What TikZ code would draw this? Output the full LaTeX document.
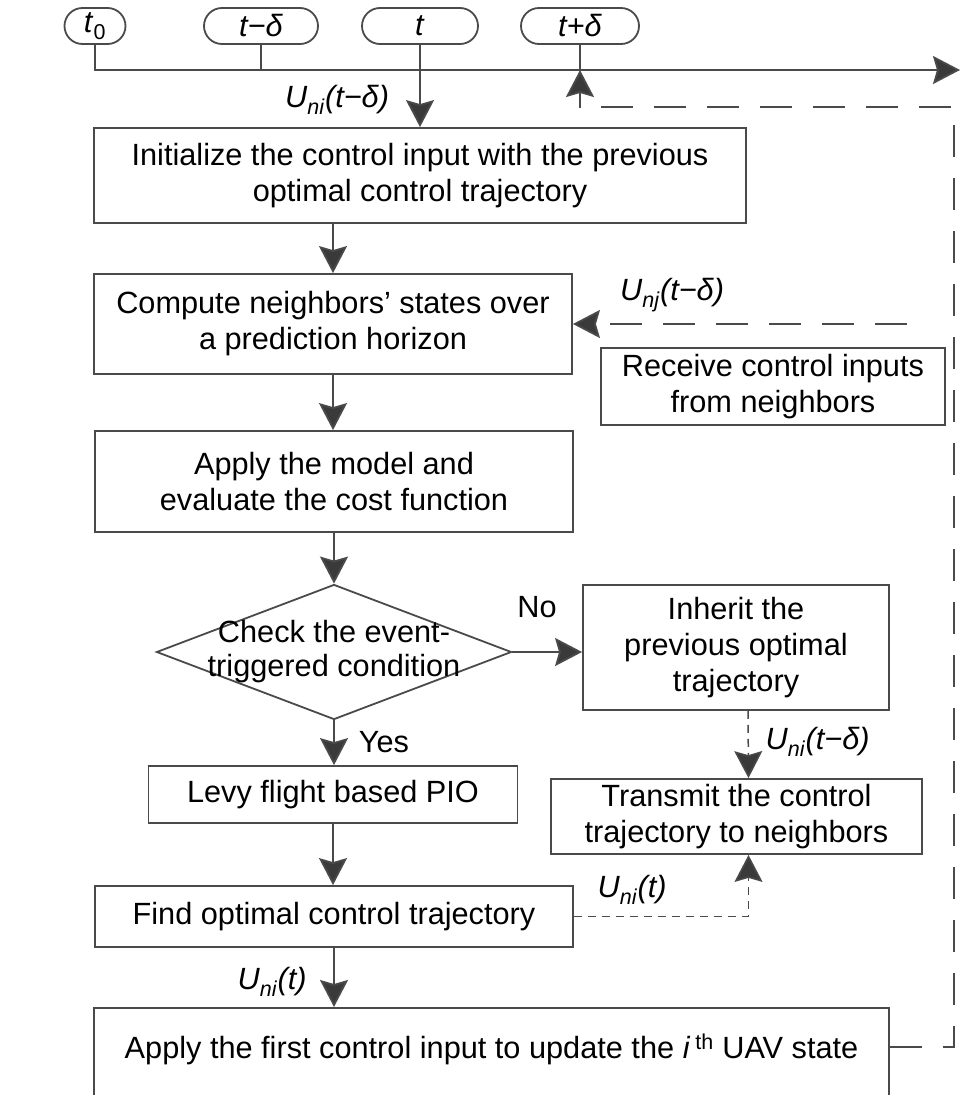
\documentclass[tikz,border=0pt]{standalone}
\usepackage{fontspec}
\setmainfont{Liberation Sans}
\usepackage{tikz}
\usetikzlibrary{arrows.meta,shapes.geometric}

\definecolor{linegray}{HTML}{4A4A4A}
\definecolor{tipgray}{HTML}{3A3A3A}
\newcommand{\Usig}[2]{\textit{U}\textsubscript{\textit{#1}}\textit{(#2)}}

\begin{document}
\begin{tikzpicture}[x=1pt,y=-1pt,
    every node/.style={font=\fontsize{30.7}{36}\selectfont},
    box/.style={draw=linegray,line width=1.8pt,rectangle,align=center,inner sep=0pt},
    pill/.style={draw=linegray,line width=1.8pt,rounded corners=18pt,minimum height=36pt,inner sep=0pt},
    dec/.style={draw=linegray,line width=1.8pt,diamond,minimum width=355pt,minimum height=135pt,inner sep=0pt},
    wire/.style={draw=linegray,line width=1.8pt},
    arr/.style={wire,-{Stealth[length=27pt,width=28pt,inset=4pt,fill=tipgray]}},
    dlong/.style={dash pattern=on 32pt off 21pt},
    dshort/.style={line width=1.5pt,dash pattern=on 8pt off 6pt}]

    \useasboundingbox (0,0) rectangle (961,1095);

    % Time axis
    \node[pill,minimum width=61pt]  (p0) at (95,26)  {\textit{t}\textsubscript{0}};
    \node[pill,minimum width=114pt] (pm) at (261,26) {\textit{t−δ}};
    \node[pill,minimum width=116pt] (pt) at (420,26) {\textit{t}};
    \node[pill,minimum width=118pt] (pp) at (580,26) {\textit{t+δ}};
    \coordinate (tl0) at (94,70);
    \coordinate (tl1) at (960,70);
    \draw[arr] (tl0) -- (tl1);
    \draw[wire] (p0.south) -- (p0.south |- tl0);
    \draw[wire] (pm.south) -- (pm.south |- tl0);
    \draw[wire] (pp.south) -- (pp.south |- tl0);

    % Main column
    \node[box,minimum width=652pt,minimum height=95pt] (init) at (420,175.5)
      {Initialize the control input with the previous\\optimal control trajectory};
    \node[box,minimum width=478pt,minimum height=100pt] (nbst) at (333,324)
      {Compute neighbors’ states over\\a prediction horizon};
    \node[box,minimum width=478pt,minimum height=101pt] (cost) at (334,481.5)
      {Apply the model and\\evaluate the cost function};
    \node[dec,label={[align=center,font=\fontsize{30.7}{34}\selectfont]center:Check the event-\\triggered condition}] (chk) at (334,652) {};
    \node[box,minimum width=369pt,minimum height=57pt] (levy) at (333,794.5)
      {Levy flight based PIO};
    \node[box,minimum width=478pt,minimum height=61pt] (find) at (334,916.5)
      {Find optimal control trajectory};
    \node[box,anchor=north,minimum width=795pt,text height=51pt,text depth=100pt] (last) at (491.5,1007)
      {Apply the first control input to update the \textit{i}\,\textsuperscript{th} UAV state};

    % Side column
    \node[box,minimum width=344pt,minimum height=77pt] (rcv) at (773,386.5)
      {Receive control inputs\\from neighbors};
    \node[box,minimum width=306pt,minimum height=125pt] (inh) at (736,647.5)
      {Inherit the\\previous optimal\\trajectory};
    \node[box,minimum width=371pt,minimum height=75pt] (trn) at (736.5,816.5)
      {Transmit the control\\trajectory to neighbors};

    % Flow
    \draw[arr] (pt.south) -- (init.north);
    \draw[arr] (init.south -| nbst.north) -- (nbst.north);
    \draw[arr] (nbst.south) -- (nbst.south |- cost.north);
    \draw[arr] (cost.south) -- (chk.north);
    \draw[arr] (chk.east) -- (chk.east -| inh.west);
    \draw[arr] (chk.south) -- (chk.south |- levy.north);
    \draw[arr] (levy.south) -- (levy.south |- find.north);
    \draw[arr] (find.south) -- (find.south |- last.north);

    % Exchange with neighbors (dashed)
    \coordinate (rcvin) at (907,324);
    \draw[arr,dlong] (rcvin) -- (nbst.east);
    \draw[arr,dshort] ([xshift=12pt]inh.south) -- ([xshift=12pt]trn.north);
    \draw[arr,dshort] (find.east) -| ([xshift=12pt]trn.south);

    % Feedback to next instant
    \coordinate (lastmid) at ([yshift=-40pt]last.north east);
    \coordinate (fbk) at (954,107);
    \draw[arr,dlong] (lastmid) -| (fbk) -| (pp.south |- tl0);

    % Labels
    \node (lbtop) at (337,100) {\Usig{ni}{t−δ}};
    \node (lbnj) at (672,295) {\Usig{nj}{t−δ}};
    \node (lbno) at (537,607) {No};
    \node (lbyes) at (384,742) {Yes};
    \node[anchor=west] (lbinh) at (762,742) {\Usig{ni}{t−δ}};
    \node (lbfind) at (632,890) {\Usig{ni}{t}};
    \node (lbout) at (272,982) {\Usig{ni}{t}};

\end{tikzpicture}
\end{document}
